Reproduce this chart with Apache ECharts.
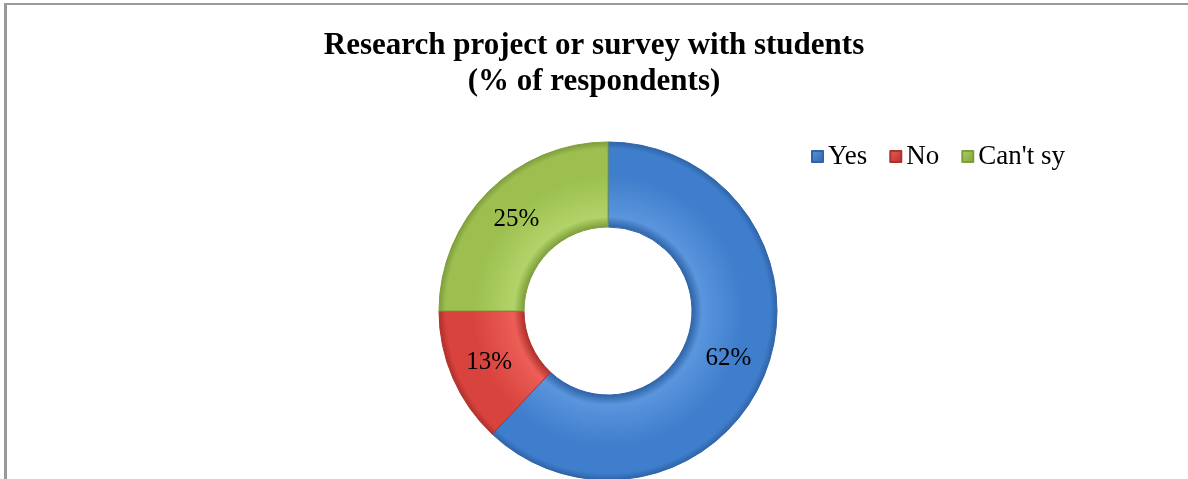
<!DOCTYPE html>
<html>
<head>
<meta charset="utf-8">
<script src="https://cdn.jsdelivr.net/npm/echarts@6/dist/echarts.min.js"></script>
<style>
  html, body { margin: 0; padding: 0; background: #fff; }
  #frame { position: absolute; left: 4px; top: 3px; width: 1184px; height: 476px;
           border-left: 3px solid #999; border-top: 2px solid #999; box-sizing: border-box; }
  #chart { position: absolute; left: 0; top: 0; width: 1188px; height: 479px; }
</style>
</head>
<body>
<div id="frame"></div>
<div id="chart"></div>
<script>
const titleLines = ['Research project or survey with students', '(% of respondents)'];
const categories = ['Yes', 'No', "Can't sy"];
const values = [62, 13, 25];
const baseColors = ['#3f7ecc', '#d8433d', '#9cbf50'];
const lightColors = ['#5a95dd', '#ec5e57', '#b2d368'];
const darkColors = ['#2f64a8', '#b0302b', '#7f9e3c'];

const cx = 608, cy = 311, rIn = 84, rOut = 169;

function grad(i) {
  return {
    type: 'radial', x: cx, y: cy, r: rOut, global: true,
    colorStops: [
      { offset: 0, color: darkColors[i] },
      { offset: rIn / rOut, color: darkColors[i] },
      { offset: rIn / rOut + 0.06, color: lightColors[i] },
      { offset: 0.8, color: baseColors[i] },
      { offset: 0.96, color: baseColors[i] },
      { offset: 1, color: darkColors[i] }
    ]
  };
}

const chart = echarts.init(document.getElementById('chart'));
chart.setOption({
  animation: false,
  title: {
    text: titleLines.join('\n'),
    left: 'center',
    top: 28,
    padding: [0, 0, 0, 10],
    textStyle: {
      fontFamily: 'Liberation Serif',
      fontWeight: 'bold',
      fontSize: 31,
      lineHeight: 36,
      color: '#000'
    }
  },
  legend: {
    data: categories.map((c, i) => ({ name: c, itemStyle: { color: {
      type: 'linear', x: 0, y: 0, x2: 1, y2: 1,
      colorStops: [{ offset: 0, color: lightColors[i] }, { offset: 1, color: darkColors[i] }]
    } } })),
    left: 806,
    top: 138,
    icon: 'rect',
    itemWidth: 11,
    itemHeight: 11,
    itemGap: 22,
    textStyle: { fontFamily: 'Liberation Serif', fontSize: 27, color: '#000' }
  },
  series: [{
    type: 'pie',
    center: [cx, cy],
    radius: [rIn, rOut],
    startAngle: 90,
    clockwise: true,
    avoidLabelOverlap: false,
    label: {
      show: true,
      position: 'inside',
      formatter: p => p.value + '%',
      fontFamily: 'Liberation Serif',
      fontSize: 25,
      color: '#000'
    },
    labelLine: { show: false },
    emphasis: { disabled: true },
    data: categories.map((c, i) => ({
      name: c,
      value: values[i],
      itemStyle: { color: grad(i), borderColor: darkColors[i], borderWidth: 1 }
    }))
  }]
});
</script>
</body>
</html>
